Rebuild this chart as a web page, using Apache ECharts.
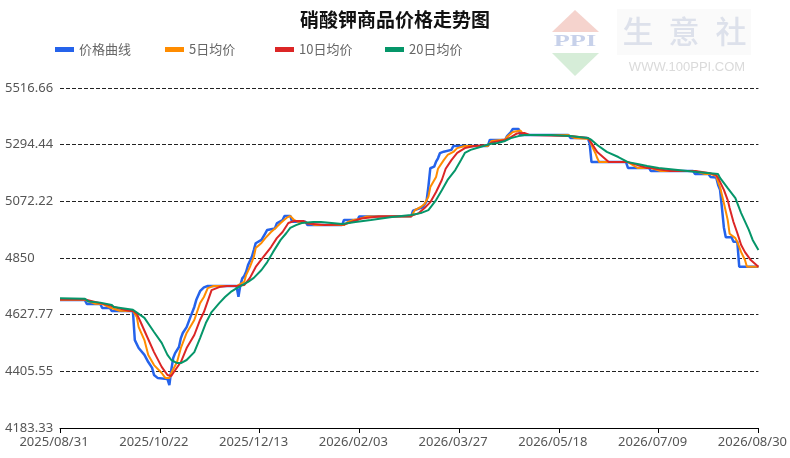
<!DOCTYPE html>
<html>
<head>
<meta charset="utf-8">
<script src="https://cdn.jsdelivr.net/npm/echarts@6/dist/echarts.min.js"></script>
<style>
html,body{margin:0;padding:0;background:#fff;}
#chart{width:790px;height:458px;}
</style>
</head>
<body>
<div id="chart"></div>
<script>
// ---------- data ----------
const titleText = '硝酸钾商品价格走势图';
const seriesNames = ['价格曲线', '5日均价', '10日均价', '20日均价'];
const startDate = '2025-08-31';
const xTickLabels = ['2025/08/31','2025/10/22','2025/12/13','2026/02/03','2026/03/27','2026/05/18','2026/07/09','2026/08/30'];
const yTickValues = [4183.33, 4405.55, 4627.77, 4850, 5072.22, 5294.44, 5516.66];

const priceData = [
['2025-08-31',4685],['2025-09-13',4685],['2025-09-14',4670],['2025-09-21',4670],['2025-09-22',4654],
['2025-09-26',4654],['2025-09-27',4642],['2025-10-08',4642],['2025-10-09',4528],['2025-10-11',4497],
['2025-10-14',4470],['2025-10-16',4442],['2025-10-18',4419],['2025-10-19',4391],['2025-10-21',4379],
['2025-10-26',4375],['2025-10-27',4352],['2025-10-28',4411],['2025-10-29',4458],['2025-10-30',4477],
['2025-11-01',4501],['2025-11-02',4536],['2025-11-03',4556],['2025-11-05',4579],['2025-11-07',4619],
['2025-11-09',4658],['2025-11-10',4685],['2025-11-12',4720],['2025-11-14',4735],['2025-11-16',4740],
['2025-12-01',4740],['2025-12-02',4698],['2025-12-03',4744],['2025-12-04',4770],['2025-12-05',4779],
['2025-12-06',4796],['2025-12-07',4822],['2025-12-09',4855],['2025-12-10',4881],['2025-12-11',4908],
['2025-12-12',4914],['2025-12-14',4921],['2025-12-16',4947],['2025-12-17',4960],['2025-12-21',4966],
['2025-12-22',4986],['2025-12-25',4999],['2025-12-26',5015],['2025-12-29',5015],['2025-12-30',4992],
['2026-01-06',4992],['2026-01-07',4979],['2026-01-25',4979],['2026-01-26',4999],['2026-02-02',4999],
['2026-02-03',5013],['2026-03-02',5013],['2026-03-03',5036],['2026-03-08',5049],['2026-03-10',5071],
['2026-03-11',5130],['2026-03-12',5202],['2026-03-14',5208],['2026-03-15',5228],['2026-03-16',5241],
['2026-03-17',5261],['2026-03-19',5267],['2026-03-23',5274],['2026-03-24',5289],['2026-04-11',5289],
['2026-04-12',5313],['2026-04-20',5313],['2026-04-21',5328],['2026-04-23',5344],['2026-04-24',5356],
['2026-04-27',5356],['2026-04-28',5332],['2026-05-23',5332],['2026-05-24',5321],['2026-06-02',5321],
['2026-06-03',5301],['2026-06-04',5226],['2026-06-22',5226],['2026-06-23',5203],['2026-07-04',5203],
['2026-07-05',5191],['2026-07-27',5191],['2026-07-28',5179],['2026-08-04',5179],['2026-08-05',5168],
['2026-08-08',5166],['2026-08-09',5136],['2026-08-10',5117],['2026-08-11',5046],['2026-08-12',4970],
['2026-08-13',4931],['2026-08-16',4931],['2026-08-17',4914],['2026-08-19',4914],['2026-08-20',4816],
['2026-08-30',4816]
];

const ma5Data = [
['2025-08-31',4686],['2025-09-13',4686],['2025-09-18',4671],['2025-09-22',4670],['2025-09-26',4656],
['2025-09-27',4654],['2025-10-01',4643],['2025-10-08',4642],['2025-10-10',4619],['2025-10-11',4579],
['2025-10-14',4528],['2025-10-16',4470],['2025-10-19',4430],['2025-10-23',4399],['2025-10-25',4379],
['2025-10-27',4379],['2025-10-28',4399],['2025-10-31',4442],['2025-11-02',4497],['2025-11-05',4556],
['2025-11-09',4607],['2025-11-12',4673],['2025-11-14',4697],['2025-11-16',4732],['2025-11-19',4740],
['2025-12-01',4740],['2025-12-05',4756],['2025-12-06',4783],['2025-12-08',4815],['2025-12-10',4854],
['2025-12-11',4889],['2025-12-14',4909],['2025-12-16',4928],['2025-12-19',4952],['2025-12-22',4972],
['2025-12-24',4987],['2025-12-27',5007],['2025-12-29',5015],['2025-12-31',4999],['2026-01-02',4992],
['2026-01-06',4990],['2026-01-11',4979],['2026-01-26',4979],['2026-01-28',4991],['2026-01-31',4999],
['2026-02-03',5003],['2026-02-07',5013],['2026-03-02',5013],['2026-03-04',5038],['2026-03-07',5050],
['2026-03-09',5062],['2026-03-11',5090],['2026-03-12',5128],['2026-03-15',5168],['2026-03-16',5200],
['2026-03-19',5234],['2026-03-21',5254],['2026-03-24',5266],['2026-03-26',5281],['2026-03-30',5289],
['2026-04-11',5289],['2026-04-13',5309],['2026-04-20',5315],['2026-04-21',5325],['2026-04-24',5344],
['2026-04-28',5350],['2026-04-29',5340],['2026-05-01',5332],['2026-05-23',5332],['2026-05-26',5321],
['2026-06-03',5317],['2026-06-04',5293],['2026-06-06',5262],['2026-06-07',5242],['2026-06-08',5226],
['2026-06-23',5226],['2026-06-28',5203],['2026-07-05',5203],['2026-07-10',5191],['2026-07-28',5191],
['2026-08-02',5179],['2026-08-05',5179],['2026-08-08',5172],['2026-08-09',5148],['2026-08-10',5128],
['2026-08-12',5066],['2026-08-14',4999],['2026-08-15',4945],['2026-08-18',4928],['2026-08-19',4913],
['2026-08-21',4873],['2026-08-23',4842],['2026-08-24',4816],['2026-08-30',4816]
];

const ma10Data = [
['2025-08-31',4687],['2025-09-13',4687],['2025-09-22',4671],['2025-09-24',4668],['2025-10-01',4652],
['2025-10-06',4643],['2025-10-08',4642],['2025-10-10',4632],['2025-10-12',4599],['2025-10-15',4548],
['2025-10-19',4481],['2025-10-23',4423],['2025-10-26',4391],['2025-10-28',4387],['2025-10-29',4399],
['2025-11-02',4442],['2025-11-05',4497],['2025-11-09',4548],['2025-11-12',4607],['2025-11-14',4638],
['2025-11-18',4724],['2025-11-22',4736],['2025-11-26',4740],['2025-12-01',4740],['2025-12-05',4744],
['2025-12-08',4772],['2025-12-11',4815],['2025-12-15',4854],['2025-12-19',4893],['2025-12-22',4928],
['2025-12-25',4952],['2025-12-28',4987],['2025-12-31',4995],['2026-01-05',4995],['2026-01-07',4985],
['2026-01-16',4979],['2026-01-26',4981],['2026-02-01',4997],['2026-02-04',5005],['2026-02-13',5013],
['2026-03-02',5015],['2026-03-06',5026],['2026-03-09',5046],['2026-03-12',5069],['2026-03-15',5109],
['2026-03-18',5156],['2026-03-20',5200],['2026-03-23',5234],['2026-03-26',5262],['2026-03-30',5281],
['2026-04-04',5289],['2026-04-11',5293],['2026-04-13',5303],['2026-04-20',5313],['2026-04-23',5324],
['2026-04-26',5338],['2026-04-30',5340],['2026-05-03',5332],['2026-05-24',5328],['2026-06-02',5321],
['2026-06-04',5301],['2026-06-07',5266],['2026-06-10',5246],['2026-06-13',5226],['2026-06-23',5226],
['2026-07-03',5203],['2026-07-05',5203],['2026-07-15',5191],['2026-07-28',5191],['2026-08-05',5182],
['2026-08-08',5175],['2026-08-09',5164],['2026-08-12',5117],['2026-08-14',5077],['2026-08-15',5046],
['2026-08-17',4991],['2026-08-19',4948],['2026-08-21',4901],['2026-08-23',4873],['2026-08-26',4842],
['2026-08-30',4816]
];

const ma20Data = [
['2025-08-31',4692],['2025-09-13',4690],['2025-09-15',4679],['2025-09-21',4675],['2025-09-22',4669],
['2025-09-27',4666],['2025-09-28',4658],['2025-10-08',4647],['2025-10-14',4615],['2025-10-19',4560],
['2025-10-23',4517],['2025-10-26',4470],['2025-10-28',4450],['2025-10-31',4438],['2025-11-02',4438],
['2025-11-05',4450],['2025-11-09',4481],['2025-11-12',4536],['2025-11-15',4595],['2025-11-18',4638],
['2025-11-22',4673],['2025-11-25',4697],['2025-11-28',4717],['2025-12-02',4736],['2025-12-07',4756],
['2025-12-10',4772],['2025-12-14',4803],['2025-12-17',4834],['2025-12-20',4873],['2025-12-24',4921],
['2025-12-27',4948],['2025-12-29',4968],['2026-01-01',4979],['2026-01-04',4987],['2026-01-10',4991],
['2026-01-14',4991],['2026-01-25',4983],['2026-02-01',4991],['2026-02-09',4999],['2026-02-20',5011],
['2026-03-02',5019],['2026-03-07',5026],['2026-03-11',5038],['2026-03-15',5077],['2026-03-18',5116],
['2026-03-21',5156],['2026-03-25',5195],['2026-03-28',5234],['2026-03-30',5262],['2026-04-02',5274],
['2026-04-07',5285],['2026-04-12',5297],['2026-04-16',5301],['2026-04-20',5309],['2026-04-23',5320],
['2026-04-27',5328],['2026-04-30',5332],['2026-05-14',5332],['2026-05-24',5328],['2026-06-02',5321],
['2026-06-04',5313],['2026-06-07',5293],['2026-06-12',5266],['2026-06-18',5246],['2026-06-23',5226],
['2026-06-28',5219],['2026-07-03',5211],['2026-07-09',5203],['2026-07-19',5195],['2026-07-29',5187],
['2026-08-09',5179],['2026-08-10',5164],['2026-08-14',5124],['2026-08-18',5085],['2026-08-21',5026],
['2026-08-25',4960],['2026-08-27',4921],['2026-08-30',4881]
];

const seriesColors = ['#2563eb', '#ff8c00', '#dc2626', '#059669'];

// ---------- helpers ----------
function dayIndex(s) {
  const a = s.split('-').map(Number), b = startDate.split('-').map(Number);
  return Math.round((Date.UTC(a[0], a[1] - 1, a[2]) - Date.UTC(b[0], b[1] - 1, b[2])) / 86400000);
}
function toXY(list) { return list.map(p => [dayIndex(p[0]), p[1]]); }

const allData = [priceData, ma5Data, ma10Data, ma20Data];
const lastDay = dayIndex('2026-08-30');
const tickStep = 52;

const chart = echarts.init(document.getElementById('chart'), null, {renderer: 'canvas'});

const legendLefts = [50, 160, 270, 380];
const legends = seriesNames.map((n, i) => ({
  data: [n],
  left: legendLefts[i],
  top: 38,
  icon: 'rect',
  itemWidth: 19,
  itemHeight: 5,
  itemGap: 0,
  selectedMode: false,
  textStyle: {color: '#666', fontSize: 13, fontFamily: '"Noto Sans CJK SC", "Noto Sans", sans-serif'}
}));

const option = {
  animation: false,
  backgroundColor: '#fff',
  title: {
    text: titleText,
    left: 'center',
    top: 5,
    textStyle: {fontSize: 19, fontWeight: 'bold', color: '#111', fontFamily: '"Noto Sans CJK SC", sans-serif'}
  },
  legend: legends,
  grid: {left: 60, right: 29, top: 88, bottom: 30, containLabel: false},
  xAxis: {
    type: 'value',
    min: 0,
    max: lastDay,
    interval: tickStep,
    axisLine: {show: true, lineStyle: {color: '#000', width: 1}},
    axisTick: {show: true, length: 5, lineStyle: {color: '#000'}},
    splitLine: {show: false},
    axisLabel: {
      color: '#555', fontSize: 13, fontFamily: '"Noto Sans", sans-serif',
      margin: 8, showMinLabel: true, showMaxLabel: true, hideOverlap: false,
      padding: [0, 12, 0, 0],
      formatter: v => xTickLabels[Math.round(v / tickStep)] || ''
    }
  },
  yAxis: {
    type: 'value',
    min: yTickValues[0],
    max: yTickValues[yTickValues.length - 1],
    axisLine: {show: false},
    axisTick: {show: false, customValues: yTickValues},
    axisLabel: {
      customValues: yTickValues,
      align: 'left', margin: 55,
      color: '#555', fontSize: 13, fontFamily: '"Noto Sans", sans-serif',
      formatter: v => String(v)
    },
    splitLine: {show: true, lineStyle: {color: '#222', type: [4, 2], width: 1}}
  },
  graphic: [
    {type: 'rect', shape: {x: 617, y: 9, width: 134, height: 46}, style: {fill: '#fafafa'}, silent: true, z: -1},
    {type: 'polygon', shape: {points: [[552, 32], [575, 10], [599, 32]]}, style: {fill: '#f5d3cd'}, silent: true},
    {type: 'polygon', shape: {points: [[552, 53], [599, 53], [575, 76]]}, style: {fill: '#d6edd8'}, silent: true},
    {type: 'text', x: 575, y: 42, scaleX: 1.55, style: {text: 'PPI', fill: '#c7d1ea', font: 'bold 17px "Liberation Serif", serif', align: 'center', verticalAlign: 'middle'}, silent: true},
    {type: 'text', x: 638, y: 31, style: {text: '生', fill: '#dde1eb', font: '500 31px "Noto Sans CJK SC", sans-serif', align: 'center', verticalAlign: 'middle'}, silent: true},
    {type: 'text', x: 684, y: 31, style: {text: '意', fill: '#dde1eb', font: '500 31px "Noto Sans CJK SC", sans-serif', align: 'center', verticalAlign: 'middle'}, silent: true},
    {type: 'text', x: 731, y: 31, style: {text: '社', fill: '#dde1eb', font: '500 31px "Noto Sans CJK SC", sans-serif', align: 'center', verticalAlign: 'middle'}, silent: true},
    {type: 'text', x: 687, y: 67, style: {text: 'WWW.100PPI.COM', fill: '#dadada', font: '13px "Liberation Sans", sans-serif', align: 'center', verticalAlign: 'middle'}, silent: true}
  ],
  series: allData.map((d, i) => ({
    name: seriesNames[i],
    type: 'line',
    data: toXY(d),
    showSymbol: false,
    symbol: 'none',
    smooth: false,
    color: seriesColors[i],
    lineStyle: {color: seriesColors[i], width: i === 0 ? 2.5 : 2},
    itemStyle: {color: seriesColors[i]},
    z: 2 + i
  }))
};
chart.setOption(option);
</script>
</body>
</html>
